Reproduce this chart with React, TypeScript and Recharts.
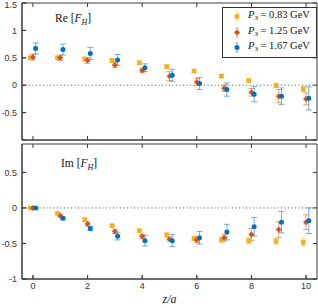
import { ScatterChart, Scatter, XAxis, YAxis, ErrorBar, ReferenceLine } from 'recharts'

// z/a positions (lattice separations)
const Z = [0, 1, 2, 3, 4, 5, 6, 7, 8, 9, 10]
const X_DOMAIN: [number, number] = [-0.4, 10.4]
const X_TICKS = [0, 2, 4, 6, 8, 10]
const RE_TICKS = [-1, -0.5, 0, 0.5, 1, 1.5]
const IM_TICKS = [-1, -0.5, 0, 0.5]

// Re[F_H]
const reP083 = [0.5, 0.5, 0.48, 0.45, 0.41, 0.34, 0.26, 0.165, 0.085, -0.005, -0.07]
const reP083Err = [0.03, 0.03, 0.03, 0.03, 0.03, 0.03, 0.03, 0.03, 0.03, 0.04, 0.05]
const reP125 = [0.51, 0.5, 0.45, 0.37, 0.27, 0.165, 0.06, -0.055, -0.13, -0.2, -0.25]
const reP125Err = [0.05, 0.05, 0.05, 0.05, 0.04, 0.08, 0.06, 0.06, 0.07, 0.12, 0.11]
const reP167 = [0.67, 0.65, 0.58, 0.46, 0.32, 0.18, 0.03, -0.08, -0.165, -0.2, -0.24]
const reP167Err = [0.1, 0.1, 0.11, 0.1, 0.07, 0.11, 0.11, 0.12, 0.14, 0.15, 0.21]

// Im[F_H]
const imP083 = [0, -0.075, -0.165, -0.25, -0.32, -0.38, -0.43, -0.45, -0.46, -0.47, -0.485]
const imP083Err = [0.01, 0.01, 0.02, 0.02, 0.02, 0.03, 0.03, 0.04, 0.04, 0.04, 0.05]
const imP125 = [0, -0.11, -0.225, -0.33, -0.4, -0.44, -0.45, -0.42, -0.375, -0.305, -0.2]
const imP125Err = [0.01, 0.02, 0.03, 0.03, 0.03, 0.03, 0.04, 0.05, 0.085, 0.11, 0.105]
const imP167 = [0, -0.145, -0.29, -0.4, -0.46, -0.46, -0.42, -0.34, -0.265, -0.2, -0.18]
const imP167Err = [0.01, 0.02, 0.03, 0.05, 0.075, 0.085, 0.09, 0.11, 0.13, 0.15, 0.18]

const SERIES = [
  { key: 'p083', label: '0.83', color: '#F2B01E', shape: 'square' },
  { key: 'p125', label: '1.25', color: '#D95319', shape: 'diamond' },
  { key: 'p167', label: '1.67', color: '#0072BD', shape: 'circle' },
] as const

const rows = (vals: number[], errs: number[], shift: number) =>
  Z.map((z, i) => ({ x: z + shift, y: vals[i], err: errs[i] }))

const RE = [rows(reP083, reP083Err, -0.1), rows(reP125, reP125Err, 0), rows(reP167, reP167Err, 0.1)]
const IM = [rows(imP083, imP083Err, -0.1), rows(imP125, imP125Err, 0), rows(imP167, imP167Err, 0.1)]

const AXIS = '#3a3a3a'
const tickFont = { fontSize: 9, fill: '#333', fontFamily: '"Liberation Sans", Arial, sans-serif' }
const serif = '"Liberation Serif", "Times New Roman", serif'

function marker(shape: string, color: string) {
  return (p: any) => {
    const { cx, cy } = p
    if (shape === 'square') return <rect x={cx - 2.3} y={cy - 2.3} width={4.6} height={4.6} fill={color} />
    if (shape === 'diamond')
      return <polygon points={`${cx},${cy - 3} ${cx + 3},${cy} ${cx},${cy + 3} ${cx - 3},${cy}`} fill={color} />
    return <circle cx={cx} cy={cy} r={2.5} fill={color} />
  }
}

function LegendBox() {
  return (
    <div style={{ border: '1px solid #333', background: '#fff', padding: '1px 3px 1px 8px', width: 82, fontFamily: serif, fontSize: 10.5, lineHeight: '11.5px', color: '#111' }}>
      {SERIES.map((s) => (
        <div key={s.key} style={{ display: 'flex', alignItems: 'center', whiteSpace: 'nowrap' }}>
          <svg width={12} height={11} style={{ marginRight: 5 }}>
            <line x1={6} x2={6} y1={1} y2={10} stroke={s.color} strokeOpacity={0.5} />
            <line x1={4.5} x2={7.5} y1={1} y2={1} stroke={s.color} strokeOpacity={0.5} />
            <line x1={4.5} x2={7.5} y1={10} y2={10} stroke={s.color} strokeOpacity={0.5} />
            {marker(s.shape, s.color)({ cx: 6, cy: 5.5 })}
          </svg>
          <span>
            <i>P</i>
            <sub style={{ fontSize: 7, verticalAlign: '-2px' }}>3</sub> = {s.label} GeV
          </span>
        </div>
      ))}
    </div>
  )
}

// box frame + inward ticks on all four sides, drawn through the chart's scales
function frame(domain: [number, number], ticks: number[], tickDx: number, tickDy: number) {
  const [x0, x1] = X_DOMAIN
  const [y0, y1] = domain
  const seg = (a: { x: number; y: number }, b: { x: number; y: number }, k: string) => (
    <ReferenceLine key={k} xAxisId="b" yAxisId="l" segment={[a, b]} stroke={AXIS} ifOverflow="visible" />
  )
  return [
    seg({ x: x0, y: y0 }, { x: x0, y: y1 }, 'fl'),
    seg({ x: x1, y: y0 }, { x: x1, y: y1 }, 'fr'),
    seg({ x: x0, y: y0 }, { x: x1, y: y0 }, 'fb'),
    seg({ x: x0, y: y1 }, { x: x1, y: y1 }, 'ft'),
    ...X_TICKS.flatMap((t) => [
      seg({ x: t, y: y0 }, { x: t, y: y0 + tickDy }, `xb${t}`),
      seg({ x: t, y: y1 }, { x: t, y: y1 - tickDy }, `xt${t}`),
    ]),
    ...ticks.flatMap((t) => [
      seg({ x: x0, y: t }, { x: x0 + tickDx, y: t }, `yl${t}`),
      seg({ x: x1, y: t }, { x: x1 - tickDx, y: t }, `yr${t}`),
    ]),
  ]
}

function Panel({ data, domain, ticks, height, top, bottomAxisHeight, showX, tickDy }: {
  data: { x: number; y: number; err: number }[][]
  domain: [number, number]
  ticks: number[]
  height: number
  top: number
  bottomAxisHeight: number
  showX: boolean
  tickDy: number
}) {
  return (
    <ScatterChart width={318} height={height} margin={{ top, right: 1, bottom: 0, left: 0 }}>
      <XAxis xAxisId="b" type="number" dataKey="x" domain={X_DOMAIN} ticks={X_TICKS} height={bottomAxisHeight}
        stroke={AXIS} tick={showX ? tickFont : false} tickSize={-4} tickMargin={8}
        label={showX ? { value: 'z/a', position: 'insideBottom', offset: 5, style: { fontStyle: 'italic', fontFamily: serif, fontSize: 12, fill: '#222' } } : undefined} />
      <YAxis yAxisId="l" type="number" dataKey="y" domain={domain} ticks={ticks} width={22}
        stroke={AXIS} tick={tickFont} tickSize={-4} tickMargin={9} />
      <ReferenceLine xAxisId="b" yAxisId="l" y={0} stroke="#555" strokeDasharray="1 2.5" />
      {frame(domain, ticks, 0.15, tickDy)}
      {SERIES.map((s, i) => (
        <Scatter key={s.key} xAxisId="b" yAxisId="l" data={data[i]} shape={marker(s.shape, s.color)} isAnimationActive={false}>
          <ErrorBar dataKey="err" direction="y" width={3} stroke={s.color} strokeOpacity={0.55} strokeWidth={1} isAnimationActive={false} />
        </Scatter>
      ))}
    </ScatterChart>
  )
}

function TopPanel() {
  return (
    <div style={{ position: 'relative' }}>
      <Panel data={RE} domain={[-1, 1.5]} ticks={RE_TICKS} height={141} top={3} bottomAxisHeight={1} showX={false} tickDy={0.075} />
      <div style={{ position: 'absolute', left: 222, top: 7 }}>
        <LegendBox />
      </div>
    </div>
  )
}

export default function App() {
  const label = { position: 'absolute' as const, fontFamily: serif, fontSize: 11.5, color: '#111', whiteSpace: 'nowrap' as const }
  return (
    <div style={{ position: 'absolute', left: 0, top: 0, width: 318, height: 308, background: '#fff' }}>
      <div style={{ position: 'absolute', left: 0, top: 142 }}>
        <Panel data={IM} domain={[-1, 0.9]} ticks={IM_TICKS} height={166} top={2} bottomAxisHeight={29} showX tickDy={0.056} />
      </div>
      <div style={{ position: 'absolute', left: 0, top: 0 }}>
        <TopPanel />
      </div>
      <span style={{ ...label, left: 55, top: 12 }}>Re [<i>F</i><sub style={{ fontSize: 8, fontStyle: 'italic' }}>H</sub>]</span>
      <span style={{ ...label, left: 61, top: 157 }}>Im [<i>F</i><sub style={{ fontSize: 8, fontStyle: 'italic' }}>H</sub>]</span>
    </div>
  )
}
